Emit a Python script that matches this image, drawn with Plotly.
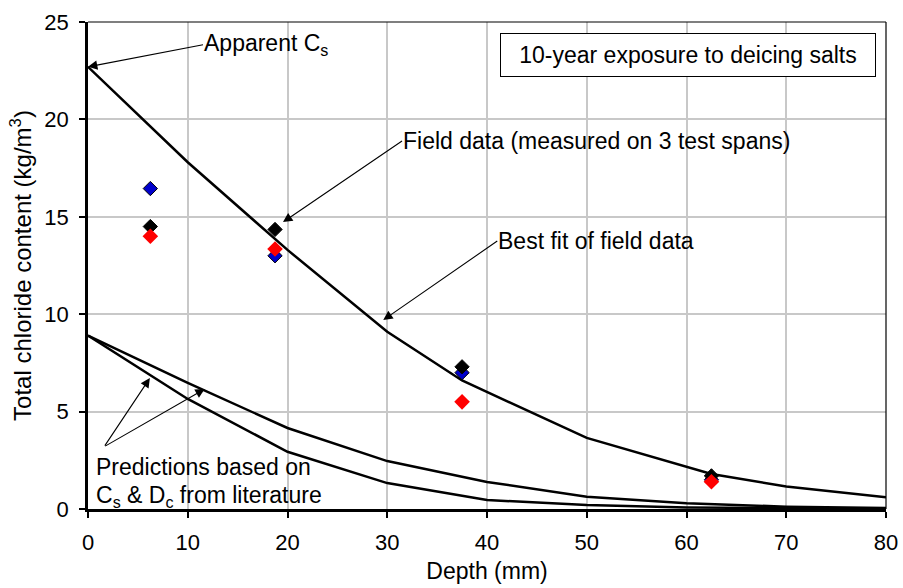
import plotly.graph_objects as go

# Best fit of field data
fit_depth = [0, 10, 20, 30, 37.5, 50, 62.5, 70, 80]
fit_cl = [22.7, 17.8, 13.3, 9.1, 6.6, 3.65, 1.8, 1.15, 0.6]

# Predictions from literature
pred_depth = [0, 10, 20, 30, 40, 50, 60, 70, 80]
pred_upper = [8.9, 6.47, 4.16, 2.46, 1.39, 0.63, 0.3, 0.12, 0.05]
pred_lower = [8.9, 5.65, 2.94, 1.33, 0.46, 0.2, 0.08, 0.03, 0.01]

# Field data (3 test spans)
field_depth = [6.25, 18.75, 37.5, 62.5]
span_blue = [16.45, 13.0, 7.0, 1.5]
span_black = [14.5, 14.35, 7.3, 1.7]
span_red = [14.0, 13.35, 5.5, 1.4]

x_ticks = [0, 10, 20, 30, 40, 50, 60, 70, 80]
y_ticks = [0, 5, 10, 15, 20, 25]

FONT = "Liberation Sans, Arial, sans-serif"

fig = go.Figure()
fig.add_trace(go.Scatter(x=fit_depth, y=fit_cl, mode="lines",
                         line=dict(color="black", width=2.5), showlegend=False))
for ys in (pred_upper, pred_lower):
    fig.add_trace(go.Scatter(x=pred_depth, y=ys, mode="lines",
                             line=dict(color="black", width=2.5), showlegend=False))

fig.add_trace(go.Scatter(x=field_depth, y=span_blue, mode="markers",
                         marker=dict(symbol="diamond", size=11, color="#0000CC",
                                     line=dict(color="black", width=1)), showlegend=False))
fig.add_trace(go.Scatter(x=field_depth, y=span_black, mode="markers",
                         marker=dict(symbol="diamond", size=11, color="black",
                                     line=dict(color="black", width=1)), showlegend=False))
fig.add_trace(go.Scatter(x=field_depth, y=span_red, mode="markers",
                         marker=dict(symbol="diamond", size=12, color="#FF0000",
                                     line=dict(width=0)), showlegend=False))

AFS = 23
afont = dict(family=FONT, size=AFS, color="black")
arrow = dict(showarrow=True, arrowhead=2, arrowsize=1.7, arrowwidth=1.1,
             arrowcolor="black", xref="x", yref="y", font=afont,
             xanchor="left", yanchor="middle", borderpad=0)

# text annotations with their arrows (tail at left-middle of the text)
fig.add_annotation(x=0, y=22.7, ax=115, ay=-22, text="Apparent C<sub>s</sub>", **arrow)
fig.add_annotation(x=19.55, y=14.73, ax=119, ay=-81,
                   text="Field data (measured on 3 test spans)", **arrow)
fig.add_annotation(x=29.6, y=9.7, ax=114, ay=-79, text="Best fit of field data", **arrow)
# two arrows for the predictions label
arrow2 = dict(showarrow=True, arrowhead=2, arrowsize=1.7, arrowwidth=1.1,
              arrowcolor="black", text="", xref="x", yref="y")
fig.add_annotation(x=6.2, y=6.72, ax=-46, ay=69, **arrow2)
fig.add_annotation(x=11.7, y=6.16, ax=-101, ay=58, **arrow2)

txt = dict(showarrow=False, xref="paper", yref="paper", xanchor="left",
           yanchor="middle", font=afont)

def px(xp, yp):
    # convert page pixels to paper coords of plot area (88..886, 22..509)
    return (xp - 88) / (886 - 88), (509 - yp) / (509 - 22)

x0, y0 = px(94, 467)
fig.add_annotation(x=x0, y=y0, text="Predictions based on", **txt)
x0, y0 = px(94, 496)
fig.add_annotation(x=x0, y=y0,
                   text="C<sub>s</sub> &amp; D<sub>c</sub> from literature", **txt)
x0, y0 = px(688, 55)
fig.add_annotation(x=x0, y=y0, xref="paper", yref="paper", showarrow=False,
                   xanchor="center", yanchor="middle",
                   text="10-year exposure to deicing salts",
                   font=afont,
                   bordercolor="black", borderwidth=1, bgcolor="white",
                   width=372, height=40)

fig.update_layout(
    width=903, height=588,
    margin=dict(l=88, r=17, t=22, b=79, autoexpand=False),
    paper_bgcolor="white", plot_bgcolor="white",
    font=dict(family=FONT, size=22, color="black"),
)
fig.update_xaxes(range=[0, 80], tickvals=x_ticks, showgrid=True, gridcolor="#C8C8C8",
                 gridwidth=1.5, showline=True, linecolor="black", linewidth=2.5,
                 ticks="outside", ticklen=6, tickwidth=1.5, tickcolor="black",
                 zeroline=False, ticklabelstandoff=6, tickfont=dict(size=22),
                 automargin=False,
                 title=dict(text="Depth (mm)", font=dict(size=23), standoff=9))
fig.update_yaxes(range=[0, 25], tickvals=y_ticks, showgrid=True, gridcolor="#C8C8C8",
                 gridwidth=1.5, showline=True, linecolor="black", linewidth=2.5,
                 ticks="outside", ticklen=6, tickwidth=1.5, tickcolor="black",
                 zeroline=False, ticklabelstandoff=6, tickfont=dict(size=22),
                 automargin=False,
                 title=dict(text="Total chloride content (kg/m<sup>3</sup>)",
                            font=dict(size=24), standoff=6))
# thin frame on top and right
fig.add_shape(type="line", xref="paper", yref="paper", x0=0, x1=1, y0=1, y1=1,
              line=dict(color="black", width=1.2))
fig.add_shape(type="line", xref="paper", yref="paper", x0=1, x1=1, y0=0, y1=1,
              line=dict(color="black", width=1.2))

fig.write_html("out.html")
